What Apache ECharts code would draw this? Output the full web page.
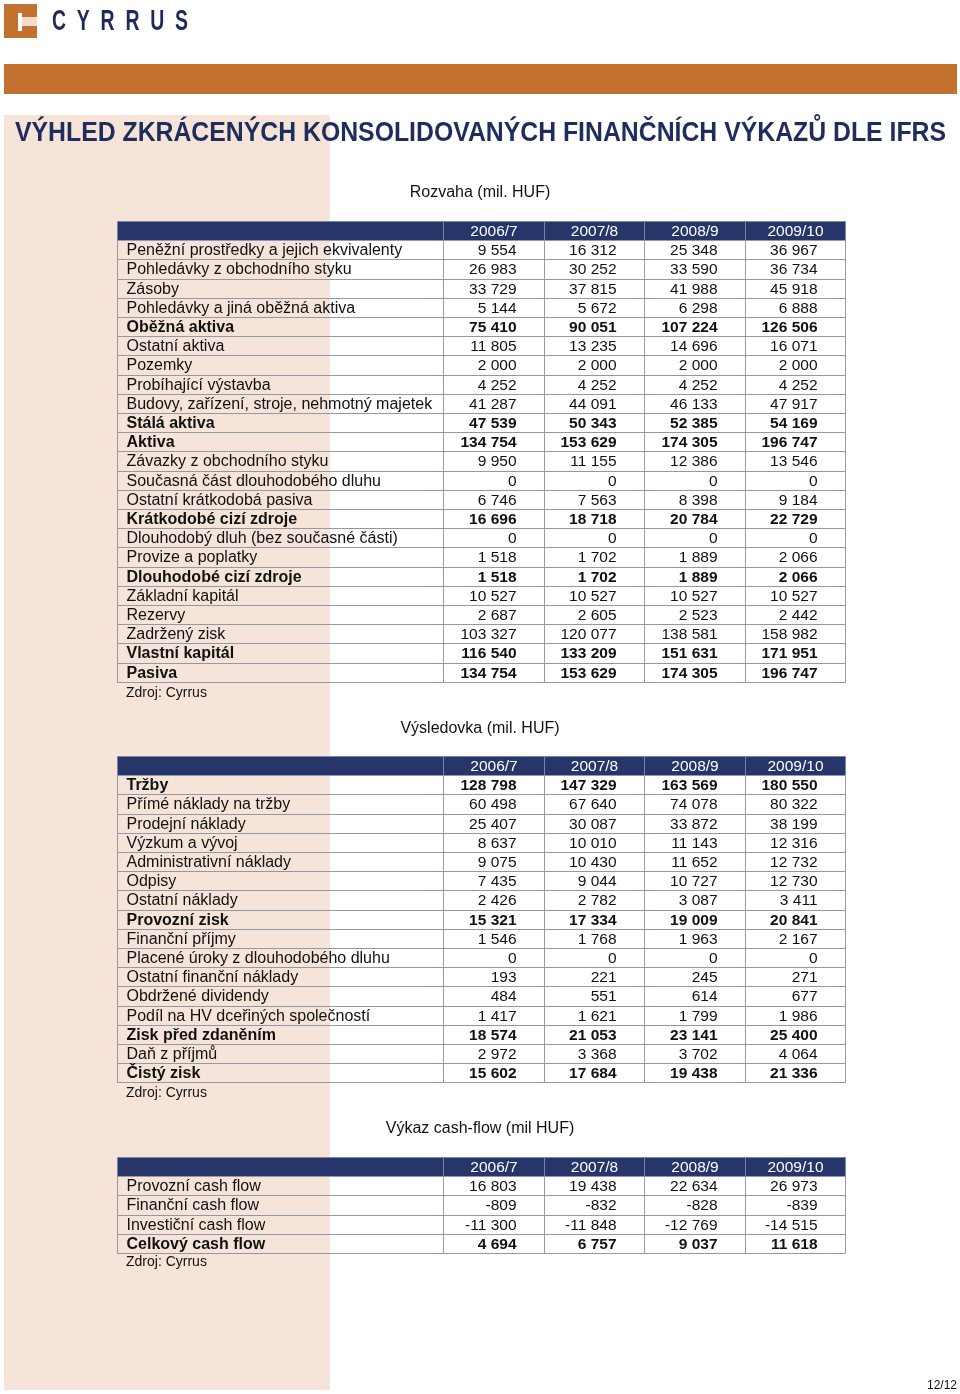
<!DOCTYPE html>
<html>
<head>
<meta charset="utf-8">
<script src="https://cdn.jsdelivr.net/npm/echarts@6/dist/echarts.min.js"></script>
<style>
html,body{margin:0;padding:0;background:#fff;}
#page{width:960px;height:1394px;}
</style>
</head>
<body>
<div id="page"></div>
<script>
var years = ['2006/7', '2007/8', '2008/9', '2009/10'];

// Rozvaha
var rozvahaLabels = [
	'Peněžní prostředky a jejich ekvivalenty', 'Pohledávky z obchodního styku', 'Zásoby',
	'Pohledávky a jiná oběžná aktiva', 'Oběžná aktiva', 'Ostatní aktiva', 'Pozemky',
	'Probíhající výstavba', 'Budovy, zařízení, stroje, nehmotný majetek', 'Stálá aktiva', 'Aktiva',
	'Závazky z obchodního styku', 'Současná část dlouhodobého dluhu', 'Ostatní krátkodobá pasiva',
	'Krátkodobé cizí zdroje', 'Dlouhodobý dluh (bez současné části)', 'Provize a poplatky',
	'Dlouhodobé cizí zdroje', 'Základní kapitál', 'Rezervy', 'Zadržený zisk', 'Vlastní kapitál', 'Pasiva'
];
var rozvahaValues = [
	[9554, 16312, 25348, 36967], [26983, 30252, 33590, 36734], [33729, 37815, 41988, 45918],
	[5144, 5672, 6298, 6888], [75410, 90051, 107224, 126506], [11805, 13235, 14696, 16071],
	[2000, 2000, 2000, 2000], [4252, 4252, 4252, 4252], [41287, 44091, 46133, 47917],
	[47539, 50343, 52385, 54169], [134754, 153629, 174305, 196747], [9950, 11155, 12386, 13546],
	[0, 0, 0, 0], [6746, 7563, 8398, 9184], [16696, 18718, 20784, 22729], [0, 0, 0, 0],
	[1518, 1702, 1889, 2066], [1518, 1702, 1889, 2066], [10527, 10527, 10527, 10527],
	[2687, 2605, 2523, 2442], [103327, 120077, 138581, 158982], [116540, 133209, 151631, 171951],
	[134754, 153629, 174305, 196747]
];
var rozvahaBold = [4, 9, 10, 14, 17, 21, 22];

// Výsledovka
var vysledovkaLabels = [
	'Tržby', 'Přímé náklady na tržby', 'Prodejní náklady', 'Výzkum a vývoj', 'Administrativní náklady',
	'Odpisy', 'Ostatní náklady', 'Provozní zisk', 'Finanční příjmy', 'Placené úroky z dlouhodobého dluhu',
	'Ostatní finanční náklady', 'Obdržené dividendy', 'Podíl na HV dceřiných společností',
	'Zisk před zdaněním', 'Daň z příjmů', 'Čistý zisk'
];
var vysledovkaValues = [
	[128798, 147329, 163569, 180550], [60498, 67640, 74078, 80322], [25407, 30087, 33872, 38199],
	[8637, 10010, 11143, 12316], [9075, 10430, 11652, 12732], [7435, 9044, 10727, 12730],
	[2426, 2782, 3087, 3411], [15321, 17334, 19009, 20841], [1546, 1768, 1963, 2167],
	[0, 0, 0, 0], [193, 221, 245, 271], [484, 551, 614, 677], [1417, 1621, 1799, 1986],
	[18574, 21053, 23141, 25400], [2972, 3368, 3702, 4064], [15602, 17684, 19438, 21336]
];
var vysledovkaBold = [0, 7, 13, 15];

// Cash-flow
var cashflowLabels = ['Provozní cash flow', 'Finanční cash flow', 'Investiční cash flow', 'Celkový cash flow'];
var cashflowValues = [
	[16803, 19438, 22634, 26973], [-809, -832, -828, -839],
	[-11300, -11848, -12769, -14515], [4694, 6757, 9037, 11618]
];
var cashflowBold = [3];

var FONT = '"Liberation Sans", Arial, Helvetica, sans-serif';
var NAVY = '#26366a';
var LINE = '#9497ab';
var ORANGE = '#c4702e';
var PEACH = '#f6e4d9';
var ROWH = 19.2;
// sloupce v jednotkach osy x: popisek + 4 roky
var colStart = [0, 3.244, 4.244, 5.244, 6.244];
var colSpan = [3.244, 1, 1, 1, 1];

function fmt(v) {
	var s = Math.abs(v).toString().replace(/\B(?=(\d{3})+(?!\d))/g, ' ');
	return (v < 0 ? '-' : '') + s;
}

// sirka textu pro zuzeni nadpisu
var measureCtx = document.createElement('canvas').getContext('2d');
function fitScale(text, font, target) {
	measureCtx.font = font;
	return target / measureCtx.measureText(text).width;
}

function buildCells(labels, values, bold) {
	var cells = [];
	cells.push({value: [0, 0], text: '', header: true});
	for (var c = 0; c < years.length; c++) {
		cells.push({value: [c + 1, 0], text: years[c], header: true});
	}
	for (var r = 0; r < labels.length; r++) {
		var b = bold.indexOf(r) >= 0;
		cells.push({value: [0, r + 1], text: labels[r], bold: b});
		for (var k = 0; k < 4; k++) {
			cells.push({value: [k + 1, r + 1], text: fmt(values[r][k]), bold: b});
		}
	}
	return cells;
}

function makeRender(cells) {
	return function(params, api) {
		var cell = cells[params.dataIndex];
		var c = api.value(0), r = api.value(1);
		var h = api.size([0, 1])[1];
		var a = api.coord([colStart[c], r]);
		var b = api.coord([colStart[c] + colSpan[c], r]);
		var x0 = Math.round(a[0]) + 0.5, x1 = Math.round(b[0]) + 0.5;
		var y0 = Math.round(a[1] - h / 2) + 0.5, y1 = Math.round(a[1] + h / 2) + 0.5;
		var tx, align;
		if (c === 0) { tx = x0 + 9; align = 'left'; }
		else if (cell.header) { tx = (x0 + x1) / 2; align = 'center'; }
		else { tx = x1 - 28; align = 'right'; }
		var size = c === 0 ? '16px ' : '15.5px ';
		return {
			type: 'group',
			children: [{
				type: 'rect',
				shape: {x: x0, y: y0, width: x1 - x0, height: y1 - y0},
				style: {fill: cell.header ? NAVY : null, stroke: cell.header ? '#7d84a3' : LINE, lineWidth: 1}
			}, {
				type: 'text',
				x: tx,
				y: (y0 + y1) / 2 + 0.5,
				style: {
					text: cell.text,
					font: (cell.bold ? 'bold ' : '') + size + FONT,
					fill: cell.header ? '#ffffff' : '#111111',
					align: align, textAlign: align,
					verticalAlign: 'middle', textVerticalAlign: 'middle'
				}
			}]
		};
	};
}

var tables = [
	{top: 221, labels: rozvahaLabels, values: rozvahaValues, bold: rozvahaBold},
	{top: 756, labels: vysledovkaLabels, values: vysledovkaValues, bold: vysledovkaBold},
	{top: 1157, labels: cashflowLabels, values: cashflowValues, bold: cashflowBold}
];

var grids = [], xAxes = [], yAxes = [], series = [];
for (var i = 0; i < tables.length; i++) {
	var t = tables[i];
	var n = t.labels.length + 1;
	var rows = [];
	for (var j = 0; j < n; j++) rows.push(String(j));
	grids.push({left: 117, top: t.top, width: 728, height: ROWH * n});
	xAxes.push({type: 'value', gridIndex: i, min: 0, max: 7.244, show: false});
	yAxes.push({type: 'category', gridIndex: i, data: rows, inverse: true, show: false});
	var cells = buildCells(t.labels, t.values, t.bold);
	series.push({
		type: 'custom',
		xAxisIndex: i,
		yAxisIndex: i,
		renderItem: makeRender(cells),
		data: cells,
		silent: true
	});
}

var titleText = 'VÝHLED ZKRÁCENÝCH KONSOLIDOVANÝCH FINANČNÍCH VÝKAZŮ DLE IFRS';
var titleFont = 'bold 27px ' + FONT;
var logoText = 'C  Y  R  R  U  S';
var logoFont = 'bold 29px ' + FONT;

var graphics = [
	{type: 'rect', z: 0, shape: {x: 4, y: 115, width: 326, height: 1275}, style: {fill: PEACH}},
	{type: 'rect', z: 0, shape: {x: 4, y: 4, width: 33, height: 34}, style: {fill: ORANGE}},
	{type: 'rect', z: 1, shape: {x: 18, y: 13, width: 4, height: 18}, style: {fill: '#ffffff'}},
	{type: 'rect', z: 1, shape: {x: 22, y: 17, width: 15, height: 9}, style: {fill: '#f3dccb'}},
	{type: 'text', z: 1, x: 52, y: 22, scaleX: fitScale(logoText, logoFont, 136),
		style: {text: logoText, font: logoFont, fill: '#1f2a5a', align: 'left', textAlign: 'left', verticalAlign: 'middle', textVerticalAlign: 'middle'}},
	{type: 'rect', z: 0, shape: {x: 4, y: 64, width: 953, height: 30}, style: {fill: ORANGE}},
	{type: 'text', z: 1, x: 15, y: 134, scaleX: fitScale(titleText, titleFont, 931),
		style: {text: titleText, font: titleFont, fill: '#1f2d5c', align: 'left', textAlign: 'left', verticalAlign: 'middle', textVerticalAlign: 'middle'}},
	{type: 'text', z: 1, x: 957, y: 1386,
		style: {text: '12/12', font: '12px ' + FONT, fill: '#111', align: 'right', textAlign: 'right', verticalAlign: 'middle', textVerticalAlign: 'middle'}}
];

var subTitles = [
	{text: 'Rozvaha (mil. HUF)', y: 193},
	{text: 'Výsledovka (mil. HUF)', y: 729},
	{text: 'Výkaz cash-flow (mil HUF)', y: 1129}
];
var sources = [693, 1093, 1262];
subTitles.forEach(function(s) {
	graphics.push({type: 'text', z: 1, x: 480, y: s.y,
		style: {text: s.text, font: '16px ' + FONT, fill: '#111', align: 'center', textAlign: 'center', verticalAlign: 'middle', textVerticalAlign: 'middle'}});
});
sources.forEach(function(y) {
	graphics.push({type: 'text', z: 1, x: 126, y: y,
		style: {text: 'Zdroj: Cyrrus', font: '14px ' + FONT, fill: '#111', align: 'left', textAlign: 'left', verticalAlign: 'middle', textVerticalAlign: 'middle'}});
});

var chart = echarts.init(document.getElementById('page'));
chart.setOption({
	animation: false,
	backgroundColor: '#ffffff',
	grid: grids,
	xAxis: xAxes,
	yAxis: yAxes,
	series: series,
	graphic: {elements: graphics}
});
</script>
</body>
</html>
